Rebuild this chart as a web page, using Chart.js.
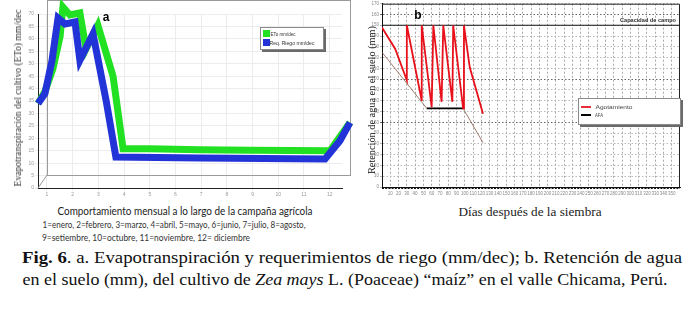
<!DOCTYPE html>
<html>
<head>
<meta charset="utf-8">
<script src="https://cdn.jsdelivr.net/npm/chart.js@4.4.0/dist/chart.umd.min.js"></script>
<style>
  body { margin: 0; width: 700px; height: 312px; background: #fff; position: relative; overflow: hidden; }
  canvas { position: absolute; }
  .t { position: absolute; white-space: nowrap; line-height: 1; }
  .leg { position: absolute; background: #fff; border: 1px solid #8a8a8a; box-shadow: 2px 2px 0 #6a6a6a; }
</style>
</head>
<body>
<canvas id="chartA" width="355" height="200" style="left:0;top:0"></canvas>
<canvas id="chartB" width="345" height="200" style="left:355px;top:0"></canvas>

<div class="leg" style="left:260px;top:27px;width:62px;height:21px"></div>
<div style="position:absolute;left:263px;top:30px;width:7px;height:7px;background:#22e022"></div>
<div style="position:absolute;left:263px;top:39px;width:7px;height:7px;background:#2233d8"></div>

<div class="leg" style="left:578px;top:98px;width:101px;height:25px"></div>
<div style="position:absolute;left:581px;top:106px;width:10px;height:2px;background:#e8303a"></div>
<div style="position:absolute;left:581px;top:114px;width:10px;height:2px;background:#000"></div>

<script>
// panel a: ETo and irrigation requirement per decade, x in months
const monthTicks = [1, 2, 3, 4, 5, 6, 7, 8, 9, 10, 11, 12];
const etoTicks = [0, 5, 10, 15, 20, 25, 30, 35, 40, 45, 50, 55, 60, 65, 70];
const etoMonth = [0.65, 0.92, 1.23, 1.51, 1.62, 1.89, 2.28, 2.52, 2.98, 3.57, 3.96, 5.0, 6.95, 8.9, 12.01, 12.79];
const etoValue = [34, 38.8, 48, 61, 72.8, 69.6, 70.4, 56, 65.5, 45, 15.8, 15.8, 15.4, 15.2, 15, 26.3];
const riegoMonth = [0.65, 0.92, 1.19, 1.43, 1.70, 2.09, 2.28, 2.79, 3.30, 3.68, 6.95, 11.82, 12.4, 12.79];
const riegoValue = [34, 38, 51, 68.4, 66, 66.8, 51.4, 62, 35.2, 12.5, 12.1, 11.7, 19, 26.3];

// panel b: soil water retention (mm) vs days after sowing
const dayTicks = [10, 20, 30, 40, 50, 60, 70, 80, 90, 100, 110, 120, 130, 140, 150, 160, 170, 180,
                  190, 200, 210, 220, 230, 240, 250, 260, 270, 280, 290, 300, 310, 320, 330, 340, 350];
const mmTicks = [0, 10, 20, 30, 40, 50, 60, 70, 80, 90, 100, 110, 120, 130, 140, 150, 160, 170];
const agotDay = [0, 16, 30, 30, 48, 48, 60, 62, 72, 74, 85, 86, 98, 99, 106, 122];
const agotMm = [148, 128, 99, 150, 80, 150, 74, 150, 79, 150, 79, 150, 73, 150, 111, 68];
const afaDay = [0, 54, 98, 122];
const afaMm = [125, 73, 73, 41];
const capacidadDay = [0, 360];
const capacidadMm = [150, 150];

const pts = (xs, ys) => xs.map((x, i) => ({ x: x, y: ys[i] }));

// back wall of the pseudo-3D chart
const wallPlugin = {
  id: 'wall',
  beforeDatasetsDraw(chart) {
    const { ctx, chartArea: a } = chart;
    ctx.save();
    ctx.strokeStyle = '#9a9a9a';
    ctx.lineWidth = 1;
    ctx.strokeRect(a.left + 9.5, 0.5, a.right + 8 - a.left - 9, a.bottom - 13);
    ctx.beginPath();
    ctx.moveTo(a.left, a.bottom);
    ctx.lineTo(a.left + 9, a.bottom - 13);
    ctx.stroke();
    ctx.restore();
  }
};

new Chart(document.getElementById('chartA'), {
  type: 'line',
  data: {
    datasets: [
      { label: 'Req. Riego mm/dec', data: pts(riegoMonth, riegoValue), borderColor: '#2233d8',
        borderWidth: 7, pointRadius: 0, tension: 0, clip: false },
      { label: 'ETo mm/dec', data: pts(etoMonth, etoValue), borderColor: '#22e022',
        borderWidth: 7, pointRadius: 0, tension: 0, clip: false }
    ]
  },
  options: {
    responsive: false,
    animation: false,
    layout: { padding: { top: 14, right: 13, left: 0, bottom: 0 } },
    plugins: { legend: { display: false }, tooltip: { enabled: false } },
    scales: {
      x: {
        type: 'linear', min: 0.65, max: 12.48,
        afterBuildTicks: s => { s.ticks = monthTicks.map(v => ({ value: v })); },
        afterFit: s => { s.height = 12; },
        ticks: { font: { size: 5 }, color: '#999', padding: 1, maxRotation: 0 },
        grid: { color: '#ececec', tickLength: 3 },
        border: { color: '#222', width: 1 }
      },
      y: {
        min: 0, max: 70,
        afterBuildTicks: s => { s.ticks = etoTicks.map(v => ({ value: v })); },
        afterFit: s => { s.width = 38; },
        ticks: { font: { size: 5 }, color: '#999', padding: 1 },
        grid: { color: '#ececec', tickLength: 3 },
        border: { color: '#222', width: 1 }
      }
    }
  },
  plugins: [wallPlugin]
});

// frame on top and right of panel b, and the dashed bottom axis
const framePlugin = {
  id: 'frame',
  afterDraw(chart) {
    const { ctx, chartArea: a } = chart;
    ctx.save();
    ctx.strokeStyle = '#222';
    ctx.lineWidth = 1;
    ctx.beginPath();
    ctx.moveTo(a.left, a.top + 0.5);
    ctx.lineTo(a.right - 0.5, a.top + 0.5);
    ctx.lineTo(a.right - 0.5, a.bottom);
    ctx.stroke();
    ctx.strokeStyle = '#111';
    ctx.lineWidth = 2;
    ctx.setLineDash([2, 1.2]);
    ctx.beginPath();
    ctx.moveTo(a.left, a.bottom + 1);
    ctx.lineTo(a.right, a.bottom + 1);
    ctx.stroke();
    ctx.restore();
  }
};

const darkRows = [60, 100, 160];

new Chart(document.getElementById('chartB'), {
  type: 'line',
  data: {
    datasets: [
      { label: 'Agotamiento', data: pts(agotDay, agotMm), borderColor: '#e8101a',
        borderWidth: 1.8, pointRadius: 0, tension: 0 },
      { label: 'AFA', data: pts(afaDay, afaMm), borderColor: '#7a5040',
        borderWidth: 1, pointRadius: 0, tension: 0,
        segment: {
          borderColor: c => c.p0.parsed.y === c.p1.parsed.y ? '#000' : '#8a5a4a',
          borderWidth: c => c.p0.parsed.y === c.p1.parsed.y ? 1.8 : 0.8
        } },
      { label: 'Capacidad de campo', data: pts(capacidadDay, capacidadMm), borderColor: '#111',
        borderWidth: 1, pointRadius: 0 }
    ]
  },
  options: {
    responsive: false,
    animation: false,
    layout: { padding: { top: 3, right: 20, left: 0, bottom: 0 } },
    plugins: { legend: { display: false }, tooltip: { enabled: false } },
    scales: {
      x: {
        type: 'linear', min: 0, max: 360,
        afterBuildTicks: s => { s.ticks = dayTicks.map(v => ({ value: v })); },
        afterFit: s => { s.height = 13; },
        ticks: { font: { size: 4.5 }, color: '#888', padding: 2, maxRotation: 0, autoSkip: false },
        grid: { color: '#a8a8a8', tickLength: 2 },
        border: { color: '#111', width: 1, dash: [2, 2] }
      },
      y: {
        min: 0, max: 170,
        afterBuildTicks: s => { s.ticks = mmTicks.map(v => ({ value: v })); },
        afterFit: s => { s.width = 27; },
        ticks: { font: { size: 4.5 }, color: '#888', padding: 1 },
        grid: {
          color: c => darkRows.includes(c.tick && c.tick.value) ? '#666' : '#b8b8b8',
          tickLength: 2
        },
        border: { color: '#111', width: 1, dash: [1.5, 2] }
      }
    }
  },
  plugins: [framePlugin]
});

// text labels, each centred on a point and stretched to the measured width
function place(html, cx, cy, w, font, rot, extra) {
  const el = document.createElement('div');
  el.className = 't';
  el.innerHTML = html;
  el.style.font = font;
  el.style.left = cx + 'px';
  el.style.top = cy + 'px';
  if (extra) el.style.cssText += extra;
  document.body.appendChild(el);
  const nat = el.getBoundingClientRect().width;
  const s = w ? w / nat : 1;
  el.style.transform = 'translate(-50%,-50%)' + (rot ? ' rotate(-90deg)' : '') + ' scaleX(' + s + ')';
}

place('a', 106, 17, 0, 'bold 12px "Liberation Sans"');
place('b', 418, 15, 0, 'bold 12px "Liberation Sans"');
place('Evapotranspiración del cultivo (ETo) mm/dec', 18, 98, 177, '9.5px "Liberation Serif"', true, 'color:#333');
place('Retención de agua en el suelo (mm)', 371, 100, 148, '11px "Liberation Serif"', true, 'color:#222');
place('ETo mm/dec', 283, 33.5, 25, '5px "Liberation Sans"', false, 'color:#333');
place('Req. Riego mm/dec', 292, 42.5, 45, '5px "Liberation Sans"', false, 'color:#333');
place('Agotamiento', 613.5, 107, 37, '6px "Liberation Sans"', false, 'color:#444');
place('AFA', 599, 115, 8, '5px "Liberation Sans"', false, 'color:#444');
place('Capacidad de campo', 648, 20, 56, 'bold 4.5px "Liberation Sans"', false, 'color:#333');
place('Comportamiento mensual a lo largo de la campaña agrícola', 184.5, 210, 255, '11px Lato', false, 'color:#222');
place('1=enero, 2=febrero, 3=marzo, 4=abril, 5=mayo, 6=junio, 7=julio, 8=agosto,', 173.5, 224.5, 263, '8.5px Lato', false, 'color:#333');
place('9=setiembre, 10=octubre, 11=noviembre, 12= diciembre', 146, 237.5, 208, '8.5px Lato', false, 'color:#333');
place('Días después de la siembra', 530, 212, 143, '11.5px "Liberation Serif"', false, 'color:#222');
place('<b>Fig. 6</b>. a. Evapotranspiración y requerimientos de riego (mm/dec); b. Retención de agua',
      352, 258, 660, '17px "Liberation Serif"', false, 'color:#111');
place('en el suelo (mm), del cultivo de <i>Zea mays</i> L. (Poaceae) “maíz” en el valle Chicama, Perú.',
      344.5, 280, 645, '17px "Liberation Serif"', false, 'color:#111');
</script>
</body>
</html>
